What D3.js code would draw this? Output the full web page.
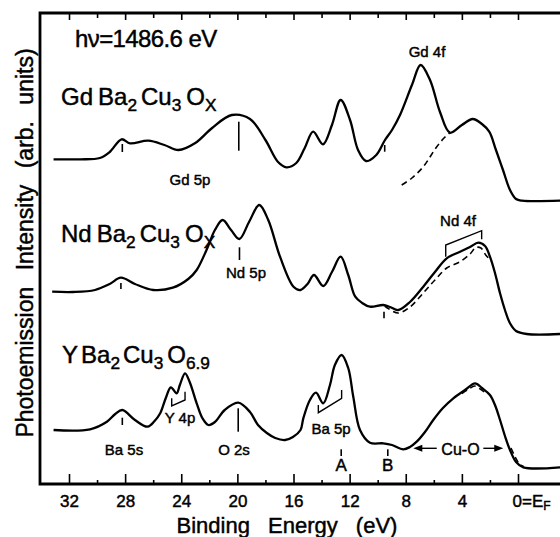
<!DOCTYPE html>
<html><head><meta charset="utf-8">
<script src="https://cdn.jsdelivr.net/npm/d3@7"></script>
<style>body{margin:0;background:#fff}svg{display:block}text{font-family:"Liberation Sans",Arial,sans-serif;fill:#000;stroke:#000;stroke-width:0.45px}</style>
</head><body><svg id="c" width="560" height="537"></svg>
<script>
// ---- data (binding energy in eV, intensity in arb. units) ----
const majorTicks = [32,28,24,20,16,12,8,4,0];
const minorTicks = [30,26,22,18,14,10,6,2];
const tickLabels = ["32","28","24","20","16","12","8","4","0=EF"];

const gdE = [33.1,31.2,29.8,29.1,28.25,27.65,26.35,25.2,24.2,23.0,21.8,20.4,19.1,18.0,17.1,16.5,15.8,15.2,14.6,13.9,13.26,12.64,11.97,11.4,10.83,10.1,9.48,8.98,8.41,7.56,6.94,6.27,5.56,4.85,4.0,3.23,2.57,2.05,1.57,1.07,0.57,0.14,-0.29,-3.0];
const gdI = [324.7,324.7,326,332,344.7,340.7,343.3,339,334,341,356,369,365,344,322,316.7,321,336,352.3,339.7,359,384,364,334,323,329,344,354,369,399,419,404,372,351.3,359,365,360,352.3,334,314,294,285,283.3,283.3];
const gdDashE = [8.29,7.56,6.75,5.79,5.2,4.85];
const gdDashI = [299,306,317.3,337.3,347,351.3];

const ndE = [33.2,31.7,30.15,29.1,28.3,27.3,26.0,24.6,23.5,22.9,22.2,21.6,21.05,20.45,19.86,19.17,18.44,17.8,16.96,16.0,15.5,15.0,14.54,13.88,13.26,12.64,12.1,11.6,11.1,10.55,9.6,9.12,8.53,7.7,6.75,5.92,5.08,4.13,3.42,2.83,2.35,2.0,1.64,1.28,0.93,0.57,0.14,-0.62,-3.0];
const ndI = [192.3,192,194,200,206.3,200,194,196.3,205,214,234,254,264,254,245,262,279,264,227.3,197.3,194,200,209,198,212,227.3,209,187.3,181,177.3,179,177,174,182,197.3,212,225.7,232.3,237,241.3,238,227.3,211,190.7,174,160.7,153,150,150];
const ndDashE = [9.5,8.55,7.7,6.75,5.92,5.08,4.13,3.42,3.0,2.64,2.3,1.9];
const ndDashI = [178,171,177,191,204,216,222.3,230,236.5,236,229,223];

const yE = [33.1,30.5,29.3,28.7,28.2,27.3,26.4,25.9,25.5,25.1,24.74,24.33,24.1,23.73,23.4,22.9,22.5,22.07,21.6,20.9,19.94,19.1,18.53,17.9,17.3,16.6,16.04,15.5,15.3,14.83,14.4,13.88,13.4,13.05,12.57,12.1,11.74,11.26,10.55,9.6,8.98,8.18,7.7,7.22,6.63,6.04,5.35,4.61,3.78,3.06,2.57,2.0,1.64,1.28,0.93,0.57,0.14,-0.38,-3.0];
const yI = [54,54.7,62.3,70,74,64,57.3,63,70.7,86,96.7,90.7,99,110.7,102,80.7,66,59,62,74,81.3,72,59,51,46,44,47,54,65.7,84,91.3,80.7,99,119,129,116,87.3,54,41.3,40.7,39,34.7,37,42.3,52,64,76,85.7,94,100.7,96,89,79,64,48,34,22,16.7,16.7];
const yDashE = [4.0,3.5,3.1,2.7,2.3];
const yDashI = [90.5,95,98,95,91];
const yDash2E = [0.5,0.2,-0.1,-0.4];
const yDash2I = [36,27,20,17.5];

// marker ticks on the curves: energy, intensity from, intensity to
const markE  = [28.2,19.9,9.5, 28.3,19.85,9.55, 28.2,19.94,12.6,9.28];
const markI0 = [332,333.3,332.3, 195,224,165.7, 59,52.3,28,28];
const markI1 = [340,362.3,339, 201,236.7,172.3, 66.3,75.7,34.7,34.7];

// ---- chart ----
const svg = d3.select("#c");
const x = d3.scaleLinear().domain([32,0]).range([69,518]);
const y = d3.scaleLinear().domain([0,471]).range([484,13]);
const X0 = 40, X1 = 560, Y0 = 13, Y1 = 484;

const line = d3.line().x(d=>x(d[0])).y(d=>y(d[1])).curve(d3.curveCatmullRom.alpha(0.5));
const zip = (a,b)=>a.map((v,i)=>[v,b[i]]);

function curve(E,I,dash){
  svg.append("path").attr("d", line(zip(E,I))).attr("fill","none")
    .attr("stroke","#000").attr("stroke-width", dash?1.6:2.3)
    .attr("stroke-dasharray", dash?"6,4":null).attr("stroke-linejoin","round");
}
curve(gdE,gdI); curve(gdDashE,gdDashI,true);
curve(ndE,ndI); curve(ndDashE,ndDashI,true);
curve(yE,yI); curve(yDashE,yDashI,true); curve(yDash2E,yDash2I,true);

markE.forEach((e,i)=>{
  svg.append("line").attr("x1",x(e)).attr("x2",x(e)).attr("y1",y(markI0[i])).attr("y2",y(markI1[i]))
    .attr("stroke","#000").attr("stroke-width",1.6);
});

// frame
svg.append("path").attr("d",`M${X1},${Y0}H${X0}V${Y1}H${X1}`).attr("fill","none")
  .attr("stroke","#000").attr("stroke-width",2.8);

// axes
function ax(gen, ty, vals, size, labels){
  const g = svg.append("g").attr("transform",`translate(0,${ty})`)
    .call(gen(x).tickValues(vals).tickSize(-size).tickPadding(11)
      .tickFormat(labels ? ((d,i)=>labels[i]) : ()=>""));
  g.select(".domain").remove();
  g.selectAll(".tick line").attr("stroke","#000").attr("stroke-width",1.6);
  return g;
}
const bot = ax(d3.axisBottom, Y1, majorTicks, 10, tickLabels);
ax(d3.axisBottom, Y1, minorTicks, 4);
ax(d3.axisTop, Y0, majorTicks, 7);
ax(d3.axisTop, Y0, minorTicks, 5);
bot.selectAll(".tick text").attr("font-size",17).attr("font-family",'"Liberation Sans",Arial,sans-serif').attr("fill","#000")
  .each(function(d){
    if(d===0){
      const t=d3.select(this); t.text("").attr("text-anchor","start").attr("x",-6);
      t.append("tspan").text("0=E");
      t.append("tspan").text("F").attr("font-size",12).attr("dy",3);
    }
  });

// axis titles
svg.append("text").attr("x",287).attr("y",533).attr("text-anchor","middle")
  .attr("font-size",22).attr("word-spacing",12).text("Binding Energy (eV)");
svg.append("text").attr("transform","translate(33,243) rotate(-90)").attr("text-anchor","middle")
  .attr("font-size",23).attr("word-spacing",10).text("Photoemission Intensity (arb. units)");

// labels
function txt(s,px,py,size,anchor){
  return svg.append("text").attr("x",px).attr("y",py).attr("font-size",size)
    .attr("text-anchor",anchor||"middle").text(s);
}
svg.append("text").attr("x",75).attr("y",47).attr("font-size",24).attr("letter-spacing",-0.6).text("hν=1486.6 eV");

function formula(px,py,parts,size){
  const t = svg.append("text").attr("x",px).attr("y",py).attr("font-size",size);
  let sub=false;
  parts.forEach(p=>{
    const s = t.append("tspan").text(p[0]).attr("dx",p[2]||0);
    if(p[1] && !sub){ s.attr("dy",6).attr("font-size",size*0.72); sub=true; }
    else if(p[1]) { s.attr("font-size",size*0.72); }
    else if(!p[1] && sub){ s.attr("dy",-6); sub=false; }
  });
}
formula(61,105,[["Gd"],["Ba",0,5],["2",1],["Cu",0,4],["3",1],["O",0,5],["X",1]],24);
formula(61,242,[["Nd"],["Ba",0,5],["2",1],["Cu",0,4],["3",1],["O",0,5],["X",1]],24);
formula(62,363,[["Y"],["Ba",0,3],["2",1],["Cu",0,3],["3",1],["O",0,4],["6.9",1]],24);

txt("Gd 4f",427,57,15);
txt("Gd 5p",190,185,15);
txt("Nd 5p",246,278,15);
txt("Nd 4f",458,226,15);
txt("Ba 5s",124,455,15);
txt("O 2s",234,455,15);
txt("Y 4p",180,423,15);
txt("Ba 5p",331,434,15);
txt("A",x(12.6),471,17);
txt("B",x(9.28),471,17);
txt("Cu-O",x(4.1),455,16);

// brackets
function poly(pts){
  svg.append("path").attr("d",d3.line()(pts.map(p=>[x(p[0]),y(p[1])]))).attr("fill","none")
    .attr("stroke","#000").attr("stroke-width",1.4);
}
poly([[5.15,227.3],[5.15,239],[2.59,253.3],[2.59,244.7]]);
poly([[24.68,85.7],[24.68,78],[23.73,84],[23.73,92.3]]);
poly([[14.23,79],[14.23,71.3],[12.57,85.7],[12.57,94]]);

// Cu-O arrows
function arrow(e0,e1,iv){
  const x0=x(e0), x1=x(e1), yy=y(iv), dir = x1>x0?1:-1;
  svg.append("line").attr("x1",x0).attr("x2",x1-dir*6).attr("y1",yy).attr("y2",yy).attr("stroke","#000").attr("stroke-width",1.4);
  svg.append("path").attr("d",`M${x1},${yy}L${x1-dir*9},${yy-3.5}L${x1-dir*9},${yy+3.5}Z`).attr("fill","#000");
}
arrow(5.79,7.46,35.7);
arrow(2.47,1.05,35.7);
</script></body></html>
